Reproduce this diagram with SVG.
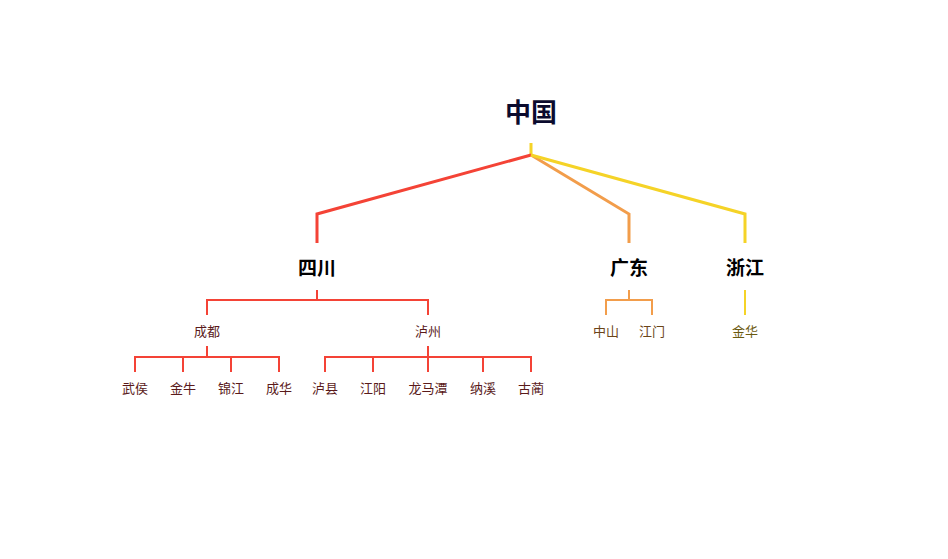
<svg xmlns="http://www.w3.org/2000/svg" width="948" height="559" viewBox="0 0 948 559">
<style>
text{font-family:"Noto Sans CJK SC","Noto Sans CJK JP",sans-serif;text-anchor:middle;dominant-baseline:central}
.root{font-size:26px;font-weight:bold;fill:#0b0b2e}
.l1{font-size:19px;font-weight:bold;fill:#000}
.l2{font-size:13px}
.red{stroke:#f44336}
.ora{stroke:#f29d4b}
.yel{stroke:#f5d327}
path{fill:none;stroke-linejoin:miter}
.w3{stroke-width:3}
.w2{stroke-width:2}
</style>
<rect width="948" height="559" fill="#fff"/>
<g id="connectors">
<path class="yel w3" d="M531 143V155"/>
<path class="red w3" d="M531 155L317 214V243"/>
<path class="ora w3" d="M531 155L629 214V243"/>
<path class="yel w3" d="M531 155L745 214V243"/>
<path class="red w2" d="M317 290V300M207 315V300H428V315"/>
<path class="red w2" d="M207 346V357M135 372V357H279V372M183 357V372M231 357V372"/>
<path class="red w2" d="M428 346V357M325 372V357H531V372M373 357V372M428 357V372M483 357V372"/>
<path class="ora w2" d="M629 290V300M606 315V300H652V315"/>
<path class="yel w2" d="M745 290V315"/>
</g>
<g id="n-china"><text class="root" x="531" y="110">中国</text></g>
<g id="n-sichuan"><text class="l1" x="317" y="266">四川</text></g>
<g id="n-guangdong"><text class="l1" x="629" y="266">广东</text></g>
<g id="n-zhejiang"><text class="l1" x="745" y="266">浙江</text></g>
<g id="n-chengdu"><text class="l2" x="207" y="330" fill="#5a1a1a">成都</text></g>
<g id="n-luzhou"><text class="l2" x="428" y="330" fill="#5a1a1a">泸州</text></g>
<g id="n-zhongshan"><text class="l2" x="606" y="330" fill="#6b4418">中山</text></g>
<g id="n-jiangmen"><text class="l2" x="652" y="330" fill="#6b4418">江门</text></g>
<g id="n-jinhua"><text class="l2" x="745" y="330" fill="#6b5a10">金华</text></g>
<g id="n-wuhou"><text class="l2" x="135" y="387" fill="#5a1a1a">武侯</text></g>
<g id="n-jinniu"><text class="l2" x="183" y="387" fill="#5a1a1a">金牛</text></g>
<g id="n-jinjiang"><text class="l2" x="231" y="387" fill="#5a1a1a">锦江</text></g>
<g id="n-chenghua"><text class="l2" x="279" y="387" fill="#5a1a1a">成华</text></g>
<g id="n-luxian"><text class="l2" x="325" y="387" fill="#5a1a1a">泸县</text></g>
<g id="n-jiangyang"><text class="l2" x="373" y="387" fill="#5a1a1a">江阳</text></g>
<g id="n-longmatan"><text class="l2" x="428" y="387" fill="#5a1a1a">龙马潭</text></g>
<g id="n-naxi"><text class="l2" x="483" y="387" fill="#5a1a1a">纳溪</text></g>
<g id="n-gulin"><text class="l2" x="531" y="387" fill="#5a1a1a">古蔺</text></g>
</svg>
